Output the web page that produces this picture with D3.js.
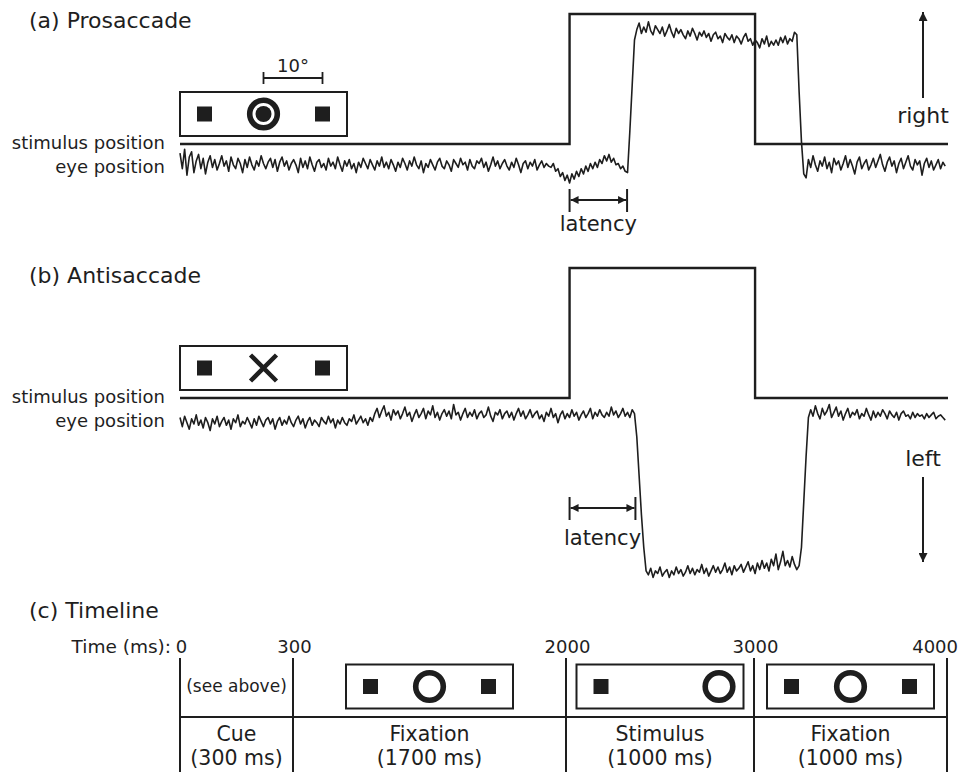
<!DOCTYPE html>
<html>
<head>
<meta charset="utf-8">
<script src="https://cdn.jsdelivr.net/npm/d3@7"></script>
<style>
  body { margin: 0; background: #fff; }
  text { font-family: "DejaVu Sans", sans-serif; fill: #1e1e1e; }
</style>
</head>
<body>
<script>
// eye traces, sampled every 12.5 ms starting at -100 ms (degrees, drawn a bit below the stimulus line)
const sampleStart = -100;
const sampleStep = 12.5;

const eyePro = [
  -0.7, -1.9, -0.4, -2.4, -1.0, -0.6, -2.2, -1.3, -0.8, -1.9,
  -1.1, -2.3, -1.4, -0.9, -1.8, -1.2, -2.0, -1.5, -0.9, -1.7,
  -1.3, -2.1, -1.0, -1.6, -1.9, -1.1, -1.5, -2.2, -1.2, -1.8,
  -1.0, -1.6, -2.0, -1.3, -1.7, -0.9, -1.5, -1.9, -1.4, -1.1,
  -1.8, -1.2, -2.1, -1.4, -1.0, -1.7, -1.3, -2.0, -1.5, -1.2,
  -1.6, -2.2, -1.1, -1.8, -1.3, -1.9, -1.0, -1.6, -2.1, -1.4,
  -1.2, -1.8, -1.5, -2.0, -1.1, -1.7, -1.4, -1.9, -1.0, -1.6,
  -2.1, -1.3, -1.7, -1.2, -1.9, -1.5, -2.2, -1.4, -1.8, -1.1,
  -1.5, -1.9, -1.2, -1.6, -2.0, -1.3, -1.7, -1.0, -1.8, -1.4,
  -1.9, -1.2, -1.6, -2.1, -1.4, -1.8, -1.1, -1.5, -2.0, -1.3,
  -1.7, -1.0, -1.6, -1.9, -1.3, -2.2, -1.5, -1.8, -1.2, -1.6,
  -2.0, -1.4, -1.1, -1.7, -1.9, -1.3, -1.6, -2.1, -1.2, -1.5,
  -1.8, -1.1, -1.6, -1.4, -2.0, -1.2, -1.7, -1.9, -1.3, -1.5,
  -1.1, -1.8, -1.4, -2.1, -1.6, -1.0, -1.7, -1.3, -1.9, -1.5,
  -1.2, -1.7, -2.0, -1.4, -1.8, -1.1, -1.6, -2.2, -1.5, -1.3,
  -1.9, -1.4, -1.7, -1.2, -2.0, -1.6, -1.3, -1.8, -1.5, -1.7,
  -1.8, -1.5, -2.1, -1.9, -2.5, -2.2, -2.8, -2.4, -3.0, -2.3,
  -2.7, -2.1, -2.5, -1.9, -2.3, -1.7, -2.1, -1.5, -1.9, -1.4,
  -1.8, -1.2, -1.5, -0.9, -1.3, -0.8, -1.4, -1.1, -1.6, -1.5,
  -1.9, -1.7, -2.1,
  -2.2, 1.0, 4.5, 8.0,
  8.8, 9.3, 8.5, 9.0, 8.6, 9.4, 8.7, 8.4, 9.1, 8.8,
  8.5, 9.0, 8.3, 8.7, 9.2, 8.6, 8.2, 8.9, 8.5, 8.8,
  8.4, 8.1, 8.7, 8.3, 8.9, 8.5, 8.0, 8.6, 8.3, 8.7,
  8.2, 8.5, 7.9, 8.4, 8.6, 8.1, 8.3, 7.8, 8.5, 8.2,
  8.0, 8.4, 7.8, 8.3, 8.1, 7.7, 8.2, 8.5, 7.9, 8.1,
  7.6, 8.0, 7.8, 7.4, 8.1, 7.7, 8.3, 7.5, 7.9, 7.6,
  8.0, 7.6, 8.2, 7.8, 8.3, 7.7, 8.1, 7.9, 8.6, 8.4,
  4.0, 0.2, -2.3,
  -2.6, -1.2, -1.8, -0.9, -1.6, -2.1, -1.3, -1.7, -1.0, -1.9,
  -1.4, -2.2, -1.1, -1.6, -1.3, -2.0, -1.5, -0.9, -1.8, -1.2,
  -1.7, -2.3, -1.4, -1.0, -1.9, -1.5, -1.2, -2.0, -1.6, -1.1,
  -1.8, -1.3, -0.8, -1.6, -2.1, -1.4, -1.0, -1.7, -1.3, -2.2,
  -1.5, -1.1, -1.9, -1.4, -0.9, -1.7, -2.0, -1.2, -1.6, -1.3,
  -2.4, -1.5, -1.1, -1.8, -1.3, -2.0, -1.6, -1.2, -1.9, -1.4,
  -1.7
];

const eyeAnti = [
  -1.5, -2.2, -1.4, -1.9, -2.4, -1.6, -2.0, -1.3, -2.1, -1.7,
  -2.3, -1.5, -1.9, -2.5, -1.6, -2.0, -1.4, -2.2, -1.8, -1.5,
  -2.1, -1.7, -2.4, -1.6, -1.9, -1.3, -2.2, -1.8, -2.0, -1.5,
  -1.9, -2.3, -1.6, -2.1, -1.4, -1.8, -2.2, -1.7, -1.5, -2.0,
  -1.6, -2.4, -1.8, -1.5, -2.1, -1.7, -2.0, -1.4, -1.9, -2.2,
  -1.7, -1.4, -2.0, -1.6, -2.3, -1.8, -1.5, -2.1, -1.7, -1.9,
  -2.2, -1.5, -1.8, -2.0, -1.4, -1.9, -1.6, -2.3, -1.7, -2.0,
  -1.5, -1.9, -2.1, -1.6, -1.8, -1.3, -2.0, -1.7, -1.4, -1.9,
  -1.6, -2.1, -1.5, -1.8,
  -1.2, -0.8, -1.5, -1.0, -0.6, -1.4, -1.1, -1.7, -0.9, -1.3,
  -1.0, -1.6, -1.2, -0.7, -1.4, -1.1, -1.8, -1.3, -0.9, -1.5,
  -1.2, -0.8, -1.6, -1.0, -1.3, -0.6, -1.5, -1.1, -1.7, -1.2,
  -0.9, -1.4, -1.0, -1.6, -0.5, -1.3, -1.1, -1.7, -1.2, -0.8,
  -1.5, -1.1, -1.4, -0.9, -1.6, -1.2, -1.0, -1.5, -1.3, -0.7,
  -1.4, -1.8, -1.1, -1.3, -0.9, -1.6, -1.2, -1.0, -1.5, -1.1,
  -1.7, -1.2, -0.8, -1.4, -1.0, -1.6, -1.3, -0.9, -1.5, -1.2,
  -1.0, -1.6, -1.3, -1.8, -1.1, -1.4, -0.8, -1.5, -1.2, -1.9,
  -1.3, -1.0, -1.6, -1.2, -1.5, -0.9, -1.4, -1.1, -1.7, -1.3,
  -1.0, -1.5, -1.2, -0.8, -1.6, -1.1, -1.4, -0.9, -1.3, -1.5,
  -1.1, -1.4, -0.7, -1.3, -1.0, -1.5, -1.2, -0.8, -1.4, -1.1,
  -1.5, -0.9, -1.2,
  -3.0, -6.0, -9.0, -11.5, -13.3,
  -13.6, -13.1, -13.8, -13.3, -13.5, -13.0, -13.7, -13.4, -13.2, -13.8,
  -13.3, -13.6, -13.0, -13.5, -13.2, -13.7, -13.4, -12.9, -13.5, -13.1,
  -13.6, -13.2, -13.4, -12.8, -13.5, -13.1, -13.7, -13.3, -12.9, -13.4,
  -13.0, -13.5, -13.2, -12.7, -13.4, -13.0, -13.6, -12.9, -13.3, -13.1,
  -12.8, -13.4, -13.0, -12.6, -13.3, -12.9, -13.5, -12.7, -13.2, -12.5,
  -13.1, -12.7, -13.3, -12.4, -12.9, -12.0, -13.2, -12.6, -11.8, -12.9,
  -12.5, -13.0, -12.2, -12.8, -13.2, -12.9,
  -11.5, -8.0, -4.5, -1.5,
  -0.9, -1.4, -0.6, -1.2, -1.6, -0.8, -1.3, -1.0, -0.5, -1.5,
  -1.1, -0.7, -1.4, -1.0, -1.7, -1.2, -0.8, -1.5, -1.1, -1.3,
  -0.9, -1.6, -1.2, -1.4, -0.8, -1.3, -1.7, -1.0, -1.5, -1.1,
  -1.4, -0.9, -1.2, -1.6, -1.0, -1.3, -1.5, -1.1, -1.7, -1.2,
  -1.0, -1.4, -1.3, -1.6, -1.1, -1.5, -1.2, -1.4, -1.3, -1.6,
  -1.2, -1.5, -1.3, -1.1, -1.6, -1.4, -1.3, -1.5, -1.7
];

// stimulus position (degrees) as steps
const stimTimes = [-100, 2000, 3000, 4040];
const stimLevels = [0, 10, 0, 0];

// stimulus onset and saccade onset (ms)
const latencyPro = [2000, 2310];
const latencyAnti = [2000, 2355];

// timeline
const phaseBounds = [0, 300, 2000, 3000, 4000];
const phaseNames = ["Cue", "Fixation", "Stimulus", "Fixation"];
const phaseDurations = ["(300 ms)", "(1700 ms)", "(1000 ms)", "(1000 ms)"];

// screen displays: item shape and horizontal position in degrees
const cuePro = [{ shape: "square", deg: -10 }, { shape: "bullseye", deg: 0 }, { shape: "square", deg: 10 }];
const cueAnti = [{ shape: "square", deg: -10 }, { shape: "cross", deg: 0 }, { shape: "square", deg: 10 }];
const fixationDisplay = [{ shape: "square", deg: -10 }, { shape: "ring", deg: 0 }, { shape: "square", deg: 10 }];
const stimulusDisplay = [{ shape: "square", deg: -10 }, { shape: "ring", deg: 10 }];
const phaseDisplays = [null, fixationDisplay, stimulusDisplay, fixationDisplay];

const width = 963;
const height = 772;
const ink = "#1e1e1e";

const svg = d3.select("body").append("svg")
  .attr("width", width)
  .attr("height", height);

const defs = svg.append("defs");
defs.append("marker")
  .attr("id", "head")
  .attr("viewBox", "0 0 10 10")
  .attr("refX", 10).attr("refY", 5)
  .attr("markerUnits", "userSpaceOnUse")
  .attr("markerWidth", 9).attr("markerHeight", 8)
  .attr("orient", "auto-start-reverse")
  .append("path").attr("d", "M0,0L10,5L0,10z").attr("fill", ink);
defs.append("marker")
  .attr("id", "bighead")
  .attr("viewBox", "0 0 10 10")
  .attr("refX", 10).attr("refY", 5)
  .attr("markerUnits", "userSpaceOnUse")
  .attr("markerWidth", 13).attr("markerHeight", 9)
  .attr("orient", "auto")
  .append("path").attr("d", "M0,0L10,5L0,10z").attr("fill", ink);

const xTrace = d3.scaleLinear().domain([-100, 4040]).range([180, 948]);
const xTime = d3.scaleLinear().domain(phaseBounds).range([180, 293, 566, 754, 947]);
const xDeg = d3.scaleLinear().domain([-10, 10]).range([-59, 59]);
const yA = d3.scaleLinear().domain([0, 10]).range([144, 14]);
const yB = d3.scaleLinear().domain([0, 10]).range([398, 268]);

function drawDisplay(g, cx, cy, items) {
  const d = g.append("g").attr("transform", `translate(${cx},${cy})`);
  d.append("rect")
    .attr("x", -83.5).attr("y", -22)
    .attr("width", 167).attr("height", 44)
    .attr("fill", "none").attr("stroke", ink).attr("stroke-width", 2);
  items.forEach((it) => {
    const x = xDeg(it.deg);
    if (it.shape === "square") {
      d.append("rect").attr("x", x - 7.5).attr("y", -7.5)
        .attr("width", 15).attr("height", 15).attr("fill", ink);
    } else if (it.shape === "ring" || it.shape === "bullseye") {
      d.append("circle").attr("cx", x).attr("cy", 0).attr("r", 13.8)
        .attr("fill", "none").attr("stroke", ink).attr("stroke-width", 5.6);
      if (it.shape === "bullseye") {
        d.append("circle").attr("cx", x).attr("cy", 0).attr("r", 8).attr("fill", ink);
      }
    } else if (it.shape === "cross") {
      d.append("path")
        .attr("d", `M${x - 13},-13L${x + 13},13M${x + 13},-13L${x - 13},13`)
        .attr("stroke", ink).attr("stroke-width", 4.5);
    }
  });
}

function drawTrace(y, eye, latency, opts) {
  const g = svg.append("g");

  const stimLine = d3.line()
    .curve(d3.curveStepAfter)
    .x((d, i) => xTrace(stimTimes[i]))
    .y((d) => y(d));
  g.append("path")
    .attr("d", stimLine(stimLevels))
    .attr("fill", "none").attr("stroke", ink).attr("stroke-width", 2.4);

  const eyeLine = d3.line()
    .x((d, i) => xTrace(sampleStart + i * sampleStep))
    .y((d) => y(d));
  g.append("path")
    .attr("d", eyeLine(eye))
    .attr("fill", "none").attr("stroke", ink).attr("stroke-width", 1.6)
    .attr("stroke-linejoin", "round");

  g.append("text").attr("x", 165).attr("y", opts.stimLabelY)
    .attr("text-anchor", "end").style("font-size", "18px").text("stimulus position");
  g.append("text").attr("x", 165).attr("y", opts.stimLabelY + 24)
    .attr("text-anchor", "end").style("font-size", "18px").text("eye position");

  // latency bracket
  const x0 = xTrace(latency[0]);
  const x1 = xTrace(latency[1]);
  const ly = opts.latencyY;
  g.selectAll("line.tick").data([x0, x1]).enter().append("line")
    .attr("x1", (d) => d).attr("x2", (d) => d)
    .attr("y1", ly - 11).attr("y2", ly + 12)
    .attr("stroke", ink).attr("stroke-width", 2);
  g.append("line")
    .attr("x1", x0 + 1).attr("x2", x1 - 1).attr("y1", ly).attr("y2", ly)
    .attr("stroke", ink).attr("stroke-width", 1.8)
    .attr("marker-start", "url(#head)").attr("marker-end", "url(#head)");
  g.append("text").attr("x", (x0 + x1) / 2).attr("y", opts.latencyTextY)
    .attr("text-anchor", "middle").style("font-size", "21px").text("latency");

  // direction arrow
  g.append("line")
    .attr("x1", 923).attr("x2", 923)
    .attr("y1", opts.arrow[0]).attr("y2", opts.arrow[1])
    .attr("stroke", ink).attr("stroke-width", 2)
    .attr("marker-end", "url(#bighead)");
  g.append("text").attr("x", 923).attr("y", opts.dirTextY)
    .attr("text-anchor", "middle").style("font-size", "22px").text(opts.dirText);

  return g;
}

// (a) Prosaccade
svg.append("text").attr("x", 29).attr("y", 28).style("font-size", "22px").text("(a) Prosaccade");
drawTrace(yA, eyePro, latencyPro, {
  stimLabelY: 149, latencyY: 200, latencyTextY: 231,
  arrow: [98, 12], dirText: "right", dirTextY: 123
});
drawDisplay(svg, 263.5, 114, cuePro);
// 10 degree scale bar
const bar = svg.append("g").attr("transform", "translate(263.5,78)");
bar.append("path")
  .attr("d", `M${xDeg(0)},0H${xDeg(10)}M${xDeg(0)},-6V6M${xDeg(10)},-6V6`)
  .attr("stroke", ink).attr("stroke-width", 1.8).attr("fill", "none");
bar.append("text").attr("x", (xDeg(0) + xDeg(10)) / 2).attr("y", -6)
  .attr("text-anchor", "middle").style("font-size", "18px").text("10°");

// (b) Antisaccade
svg.append("text").attr("x", 29).attr("y", 283).style("font-size", "22px").text("(b) Antisaccade");
drawTrace(yB, eyeAnti, latencyAnti, {
  stimLabelY: 403, latencyY: 508, latencyTextY: 545,
  arrow: [477, 562], dirText: "left", dirTextY: 466
});
drawDisplay(svg, 263.5, 368, cueAnti);

// (c) Timeline
svg.append("text").attr("x", 29).attr("y", 618).style("font-size", "22px").text("(c) Timeline");
const tl = svg.append("g");
tl.append("text").attr("x", 171).attr("y", 653)
  .attr("text-anchor", "end").style("font-size", "18.5px").text("Time (ms):");
tl.selectAll("text.tick").data(phaseBounds).enter().append("text")
  .attr("class", "tick")
  .attr("x", (d, i) => xTime(d) + (i === phaseBounds.length - 1 ? 11 : 1.5))
  .attr("y", 653)
  .attr("text-anchor", (d, i) => (i === phaseBounds.length - 1 ? "end" : "middle"))
  .style("font-size", "18px")
  .text((d) => d);
tl.selectAll("line.bound").data(phaseBounds).enter().append("line")
  .attr("x1", (d) => xTime(d)).attr("x2", (d) => xTime(d))
  .attr("y1", 658).attr("y2", height)
  .attr("stroke", ink).attr("stroke-width", 2);
tl.append("line")
  .attr("x1", xTime(0)).attr("x2", xTime(4000))
  .attr("y1", 717).attr("y2", 717)
  .attr("stroke", ink).attr("stroke-width", 2);

phaseNames.forEach((name, i) => {
  const cx = (xTime(phaseBounds[i]) + xTime(phaseBounds[i + 1])) / 2;
  tl.append("text").attr("x", cx).attr("y", 741)
    .attr("text-anchor", "middle").style("font-size", "20.5px").text(name);
  tl.append("text").attr("x", cx).attr("y", 765)
    .attr("text-anchor", "middle").style("font-size", "20.5px").text(phaseDurations[i]);
  if (phaseDisplays[i]) {
    drawDisplay(tl, cx, 686.5, phaseDisplays[i]);
  } else {
    tl.append("text").attr("x", cx).attr("y", 692)
      .attr("text-anchor", "middle").style("font-size", "17px").text("(see above)");
  }
});
</script>
</body>
</html>
